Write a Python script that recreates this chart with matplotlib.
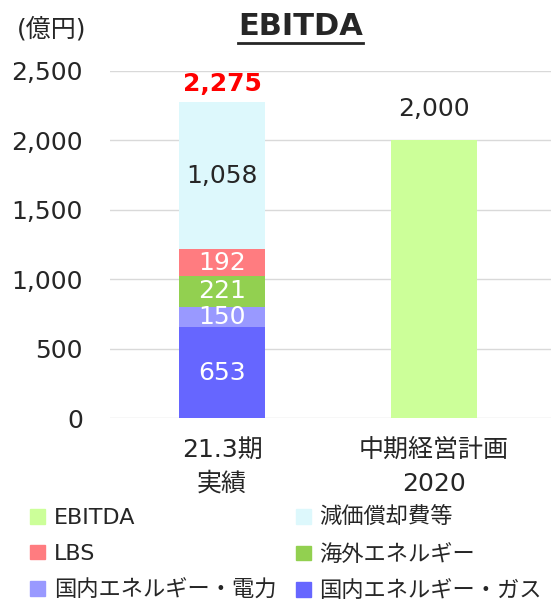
import numpy as np
import matplotlib.pyplot as plt
from matplotlib.patches import Patch
from matplotlib.lines import Line2D

plt.rcParams['font.family'] = ['DejaVu Sans', 'Noto Sans CJK JP']

#categories and values (億円)
categories = ['21.3期\n実績', '中期経営計画\n2020']
gas = [653, 0]
power = [150, 0]
overseas = [221, 0]
lbs = [192, 0]
depreciation = [1058, 0]
plan = [0, 2000]
total_labels = ['2,275', '2,000']
yticks = [0, 500, 1000, 1500, 2000, 2500]

text_col = '#262626'
c_gas = '#6666FF'
c_power = '#9999FF'
c_overseas = '#92D050'
c_lbs = '#FF7C80'
c_dep = '#DDF8FC'
c_plan = '#CCFF99'

fig = plt.figure(figsize=(5.51, 6.06), dpi=100)
ax = fig.add_axes([0.2, 0.31, 0.8, 0.573])

x = np.arange(len(categories))
w = 0.405

#stacked bars for actual
bottom = np.zeros(len(categories))
segments = [(gas, c_gas, 'white'), (power, c_power, 'white'),
            (overseas, c_overseas, 'white'), (lbs, c_lbs, 'white'),
            (depreciation, c_dep, text_col)]
for vals, col, tcol in segments:
    ax.bar(x[0], vals[0], w, bottom=bottom[0], color=col, zorder=3)
    ax.text(x[0], bottom[0] + vals[0] / 2, f'{vals[0]:,}', ha='center', va='center',
            fontsize=18, color=tcol, zorder=4)
    bottom[0] += vals[0]

#plan bar
ax.bar(x[1], plan[1], w, color=c_plan, zorder=3)

#totals above bars
ax.text(x[0], bottom[0] + 45, total_labels[0], ha='center', va='bottom',
        fontsize=18, fontweight='bold', color='#FF0000')
ax.text(x[1], plan[1] + 140, total_labels[1], ha='center', va='bottom',
        fontsize=18, color=text_col)

ax.set_xlim(-0.528, 1.552)
ax.set_ylim(0, 2500)
ax.set_yticks(yticks)
ax.set_yticklabels([f'{v:,}' for v in yticks], fontsize=18, color=text_col)
ax.set_xticks(x)
ax.set_xticklabels(categories, fontsize=18, color=text_col, linespacing=1.55)
ax.tick_params(length=0, pad=19.5)
ax.tick_params(axis='x', pad=14)
ax.grid(axis='y', color='#D9D9D9', linewidth=1, zorder=0)
for s in ax.spines.values():
    s.set_visible(False)

#unit and title
fig.text(0.093, 0.952, '(億円)', ha='center', va='center', fontsize=18, color=text_col)
title = fig.text(0.545, 0.956, 'EBITDA', ha='center', va='center', fontsize=22,
                 fontweight='bold', color=text_col)

#legend, row order as in original
handles = [Patch(color=c_plan, label='EBITDA'),
           Patch(color=c_lbs, label='LBS'),
           Patch(color=c_power, label='国内エネルギー・電力'),
           Patch(color=c_dep, label='減価償却費等'),
           Patch(color=c_overseas, label='海外エネルギー'),
           Patch(color=c_gas, label='国内エネルギー・ガス')]
leg = fig.legend(handles=handles, ncol=2, loc='upper left', bbox_to_anchor=(0.055, 0.163),
                 frameon=False, fontsize=16, handlelength=0.65, handleheight=0.65,
                 handletextpad=0.4, columnspacing=0.9, labelspacing=0.7,
                 borderaxespad=0, borderpad=0)
for t in leg.get_texts():
    t.set_color(text_col)

#underline the title
fig.canvas.draw()
bb = title.get_window_extent().transformed(fig.transFigure.inverted())
fig.add_artist(Line2D([bb.x0, bb.x1], [bb.y0 - 0.003, bb.y0 - 0.003],
                      transform=fig.transFigure, color=text_col, linewidth=2))

fig.savefig('out.png', dpi=100)
